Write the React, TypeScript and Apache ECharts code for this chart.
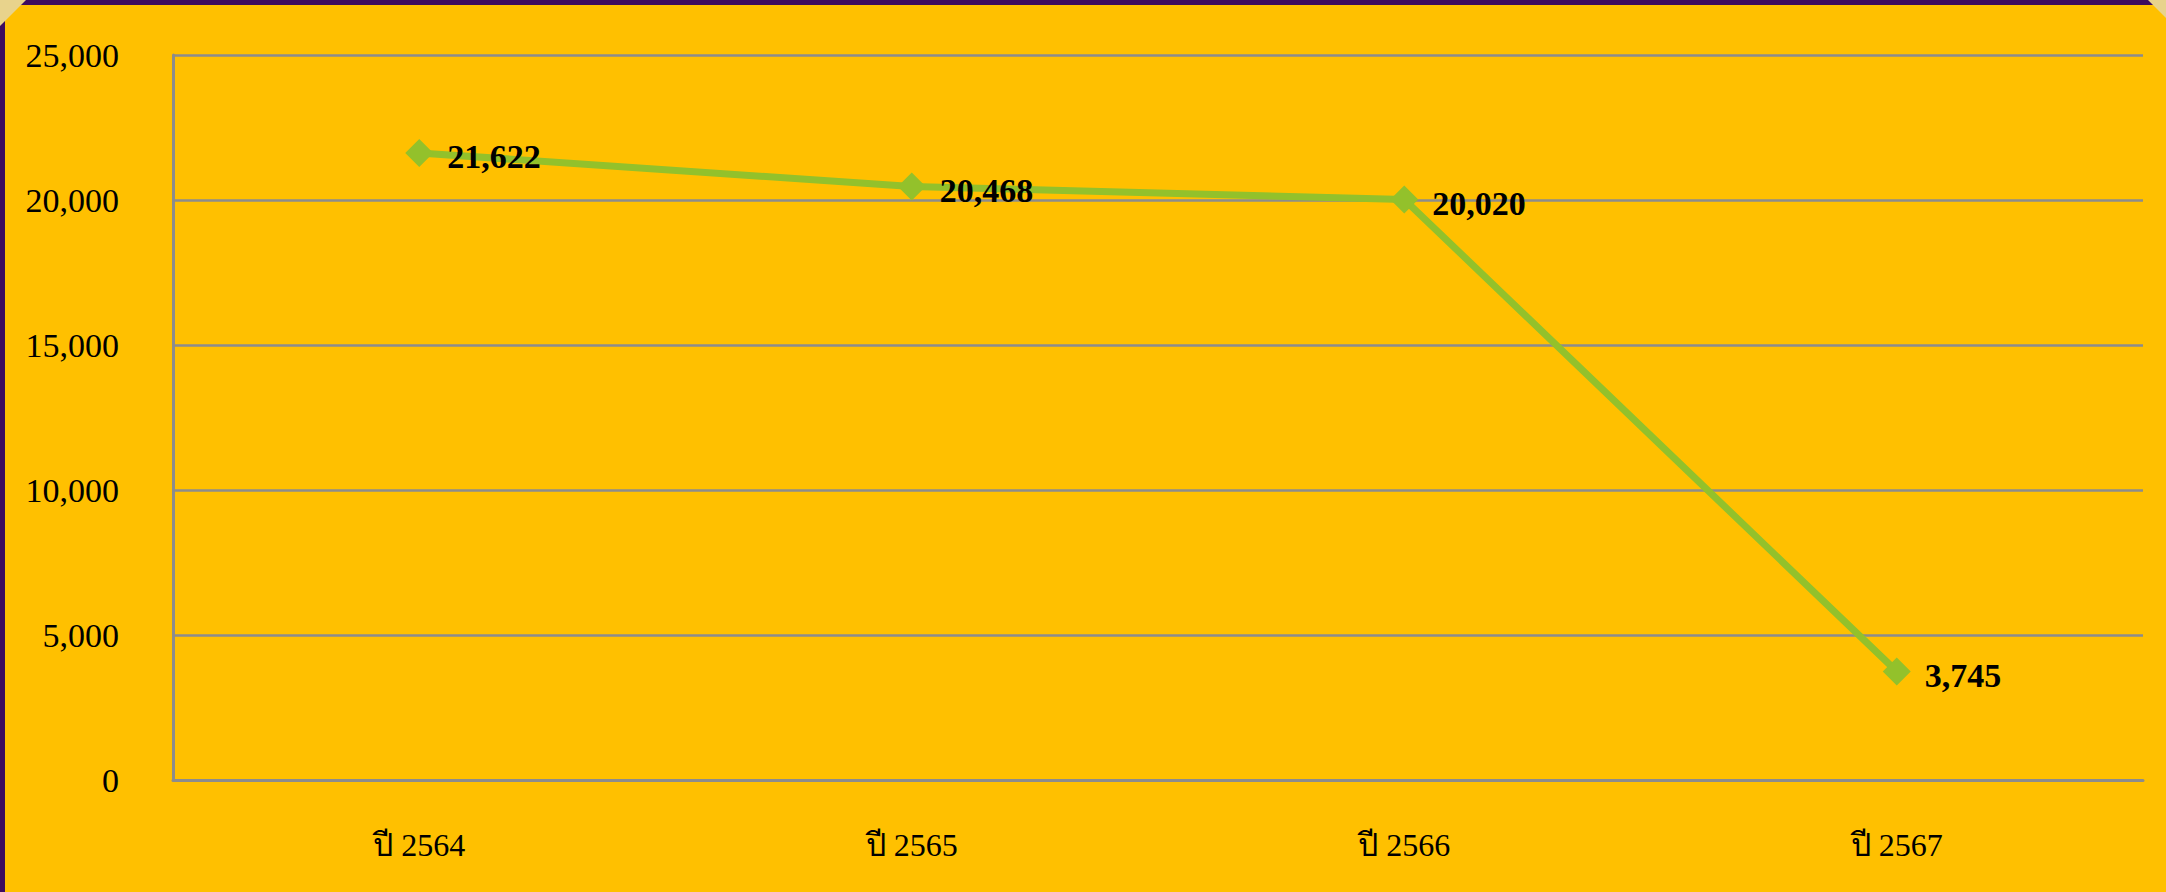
import React, { useEffect, useRef } from "react";
import * as echarts from "echarts";

const categories = ["ปี 2564", "ปี 2565", "ปี 2566", "ปี 2567"];
const values = [21622, 20468, 20020, 3745];
const yTicks = { min: 0, max: 25000, interval: 5000 };

const fmt = (v: number) => v.toLocaleString("en-US");

export default function App() {
  const ref = useRef<HTMLDivElement>(null);
  useEffect(() => {
    document.body.style.margin = "0";
    const chart = echarts.init(ref.current!, null, { renderer: "svg" });
    chart.setOption({
      animation: false,
      backgroundColor: "#3E0B5E",
      graphic: [
        {
          type: "rect",
          z: -10,
          shape: { x: 5, y: 5, width: 2161, height: 887 },
          style: { fill: "#FFC000" },
        },
        {
          type: "polygon",
          z: -9,
          shape: { points: [[0, 0], [26, 0], [0, 26]] },
          style: { fill: "#E8D38C" },
        },
        {
          type: "polygon",
          z: -9,
          shape: { points: [[2148, 0], [2166, 0], [2166, 18]] },
          style: { fill: "#E8D38C" },
        },
      ],
      grid: { left: 173, right: 23, top: 55, bottom: 112, containLabel: false },
      xAxis: {
        type: "category",
        data: categories,
        boundaryGap: true,
        axisLine: { show: true, lineStyle: { color: "#8C8C8C", width: 3 } },
        axisTick: { show: false },
        axisLabel: {
          color: "#000",
          fontFamily: "'Liberation Serif', 'Times New Roman', serif",
          fontSize: 32,
          margin: 49,
        },
      },
      yAxis: {
        type: "value",
        min: yTicks.min,
        max: yTicks.max,
        interval: yTicks.interval,
        axisLine: { show: true, lineStyle: { color: "#8C8C8C", width: 3 } },
        axisTick: { show: false },
        splitLine: { show: true, lineStyle: { color: "#8C8C8C", width: 2.5 } },
        axisLabel: {
          color: "#000",
          fontFamily: "'Liberation Serif', 'Times New Roman', serif",
          fontSize: 34,
          margin: 54,
          formatter: (v: number) => fmt(v),
        },
      },
      series: [
        {
          type: "line",
          data: values,
          symbol: "diamond",
          symbolSize: 28,
          lineStyle: { color: "#93C12B", width: 7 },
          itemStyle: { color: "#93C12B" },
          label: {
            show: true,
            position: "right",
            distance: 14,
            offset: [0, 4],
            color: "#000",
            fontWeight: "bold",
            fontFamily: "'Liberation Serif', 'Times New Roman', serif",
            fontSize: 34,
            formatter: (p: any) => fmt(p.value),
          },
        },
      ],
    });
    return () => chart.dispose();
  }, []);
  return <div ref={ref} style={{ width: 2166, height: 892 }} />;
}
